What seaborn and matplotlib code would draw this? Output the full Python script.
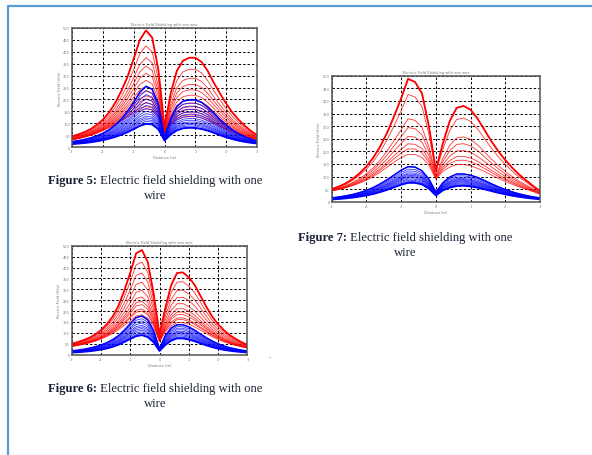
import numpy as np
import pandas as pd
import matplotlib
matplotlib.use("Agg")
import matplotlib.pyplot as plt
from matplotlib.lines import Line2D
import seaborn as sns

# distance samples shared by every curve
X = [-3.0, -2.8, -2.6, -2.4, -2.2, -2.0, -1.8, -1.6, -1.4, -1.2, -1.0,
     -0.8, -0.6, -0.4, -0.2, 0.0, 0.2, 0.4, 0.6, 0.8, 1.0,
     1.2, 1.4, 1.6, 1.8, 2.0, 2.2, 2.4, 2.6, 2.8, 3.0]

X_TICKS = [-3, -2, -1, 0, 1, 2, 3]
X_TICK_LABELS = ["-3", "-2", "-1", "0", "1", "2", "3"]
Y_TICKS = [0, 1, 2, 3, 4, 5, 6, 7, 8, 9, 10]
Y_TICK_LABELS = ["0", "50", "100", "150", "200", "250", "300", "350", "400", "450", "500"]

# Figure 5: outermost curves of each family and left-peak heights of every curve
F5_RED_HI = [0.9, 1.05, 1.25, 1.5, 1.85, 2.3, 2.9, 3.7, 4.7, 5.9, 7.4,
             9.0, 9.8, 9.2, 6.5, 1.7, 4.5, 6.4, 7.25, 7.5, 7.5,
             7.15, 6.4, 5.4, 4.5, 3.65, 2.9, 2.3, 1.8, 1.35, 1.0]
F5_RED_LO = [0.6, 0.7, 0.82, 0.97, 1.15, 1.37, 1.62, 1.9, 2.2, 2.55, 2.85,
             3.1, 3.2, 3.1, 2.5, 1.2, 1.9, 2.3, 2.5, 2.55, 2.55,
             2.45, 2.25, 2.0, 1.72, 1.47, 1.25, 1.05, 0.88, 0.74, 0.62]
F5_BLUE_HI = [0.45, 0.53, 0.63, 0.76, 0.93, 1.15, 1.45, 1.85, 2.35, 3.0, 3.75,
              4.6, 5.1, 4.85, 3.6, 0.8, 2.4, 3.4, 3.85, 3.95, 3.95,
              3.75, 3.35, 2.85, 2.3, 1.85, 1.45, 1.12, 0.87, 0.66, 0.5]
F5_BLUE_LO = [0.25, 0.29, 0.34, 0.4, 0.48, 0.58, 0.7, 0.85, 1.03, 1.25, 1.5,
              1.78, 1.95, 1.9, 1.5, 0.55, 1.05, 1.4, 1.57, 1.62, 1.6,
              1.52, 1.38, 1.2, 1.0, 0.82, 0.67, 0.54, 0.44, 0.36, 0.3]
F5_RED_PEAKS = [9.8, 8.5, 7.5, 6.8, 6.2, 5.6, 5.1, 4.7, 4.3, 4.0, 3.7, 3.4, 3.2]
F5_BLUE_PEAKS = [5.1, 4.75, 4.4, 4.05, 3.75, 3.5, 3.25, 3.0, 2.8, 2.6, 2.45, 2.3, 2.15, 1.95]

# Figure 7
F7_RED_HI = [1.0, 1.2, 1.45, 1.8, 2.25, 2.8, 3.5, 4.4, 5.5, 6.8, 8.2,
             9.75, 9.5, 8.6, 6.0, 2.5, 4.6, 6.4, 7.45, 7.6, 7.3,
             6.6, 5.7, 4.8, 4.0, 3.3, 2.7, 2.15, 1.7, 1.25, 0.85]
F7_RED_LO = [0.85, 0.97, 1.1, 1.27, 1.47, 1.7, 2.0, 2.35, 2.75, 3.15, 3.5,
             3.75, 3.75, 3.5, 2.9, 1.8, 2.4, 2.75, 2.95, 2.95, 2.85,
             2.65, 2.4, 2.12, 1.85, 1.6, 1.38, 1.17, 0.98, 0.8, 0.62]
F7_BLUE_HI = [0.3, 0.37, 0.46, 0.57, 0.72, 0.9, 1.13, 1.42, 1.75, 2.12, 2.5,
              2.78, 2.75, 2.45, 1.8, 0.75, 1.5, 1.95, 2.2, 2.2, 2.1,
              1.92, 1.68, 1.42, 1.18, 0.96, 0.78, 0.62, 0.49, 0.38, 0.3]
F7_BLUE_LO = [0.18, 0.22, 0.27, 0.33, 0.41, 0.5, 0.62, 0.77, 0.95, 1.15, 1.35,
              1.5, 1.5, 1.38, 1.05, 0.5, 0.9, 1.12, 1.25, 1.27, 1.22,
              1.12, 0.99, 0.85, 0.71, 0.59, 0.48, 0.39, 0.31, 0.25, 0.2]
F7_RED_PEAKS = [9.8, 8.55, 6.6, 5.9, 5.2, 4.6, 4.2, 3.75]
F7_BLUE_PEAKS = [2.8, 2.6, 2.45, 2.3, 2.2, 2.1, 2.0, 1.9, 1.8, 1.7, 1.6, 1.5]

# Figure 6
F6_RED_HI = [1.0, 1.15, 1.33, 1.55, 1.85, 2.25, 2.8, 3.5, 4.5, 5.9, 7.5,
             9.3, 9.6, 8.5, 5.6, 1.9, 4.3, 6.4, 7.5, 7.55, 7.1,
             6.4, 5.4, 4.4, 3.5, 2.8, 2.25, 1.8, 1.45, 1.15, 0.9]
F6_RED_LO = [0.75, 0.84, 0.95, 1.08, 1.24, 1.43, 1.67, 1.96, 2.3, 2.7, 3.1,
             3.55, 3.65, 3.35, 2.6, 1.2, 2.1, 2.65, 2.95, 2.95, 2.8,
             2.55, 2.25, 1.95, 1.65, 1.4, 1.18, 1.0, 0.85, 0.72, 0.62]
F6_BLUE_HI = [0.35, 0.41, 0.49, 0.59, 0.72, 0.89, 1.1, 1.38, 1.75, 2.25, 2.85,
              3.4, 3.55, 3.2, 2.2, 0.55, 1.75, 2.45, 2.75, 2.75, 2.55,
              2.25, 1.9, 1.55, 1.25, 1.0, 0.8, 0.64, 0.52, 0.42, 0.34]
F6_BLUE_LO = [0.2, 0.23, 0.27, 0.32, 0.39, 0.47, 0.58, 0.73, 0.92, 1.18, 1.45,
              1.7, 1.8, 1.62, 1.15, 0.35, 0.9, 1.3, 1.5, 1.5, 1.4,
              1.24, 1.05, 0.86, 0.7, 0.56, 0.45, 0.37, 0.3, 0.25, 0.21]
F6_RED_PEAKS = [9.6, 8.5, 7.5, 6.65, 5.9, 5.3, 4.9, 4.6, 4.2, 4.0, 3.65]
F6_BLUE_PEAKS = [3.55, 3.3, 3.1, 2.9, 2.7, 2.55, 2.4, 2.25, 2.1, 1.95, 1.8]

PLOT_TITLE = "Electric Field Shielding with one wire"
CAPTION_TEXT = "Electric field shielding with one"


def family(lo, hi, peaks, name):
    """Curves of one family, placed between its lowest and highest curve by peak height."""
    lo = np.array(lo)
    hi = np.array(hi)
    frames = []
    for k, p in enumerate(peaks):
        f = (p - peaks[-1]) / (peaks[0] - peaks[-1])
        frames.append(pd.DataFrame({"x": X, "y": lo + f * (hi - lo), "curve": f"{name}{k}"}))
    return pd.concat(frames, ignore_index=True)


def draw_panel(ax, red_lo, red_hi, red_peaks, blue_lo, blue_hi, blue_peaks):
    reds = family(red_lo, red_hi, red_peaks, "r")
    blues = family(blue_lo, blue_hi, blue_peaks, "b")
    sns.lineplot(data=reds, x="x", y="y", units="curve", estimator=None,
                 color="#ff0000", lw=0.6, alpha=0.8, ax=ax, legend=False)
    sns.lineplot(x=X, y=red_hi, color="#ff0000", lw=1.3, ax=ax)
    sns.lineplot(data=blues, x="x", y="y", units="curve", estimator=None,
                 color="#0000ff", lw=0.6, alpha=0.8, ax=ax, legend=False)
    sns.lineplot(x=X, y=blue_hi, color="#0000ff", lw=1.1, ax=ax)
    sns.lineplot(x=X, y=blue_lo, color="#0000ff", lw=1.4, ax=ax)

    ax.set_xlim(-3, 3)
    ax.set_ylim(0, 10)
    ax.set_xticks(X_TICKS)
    ax.set_xticklabels(X_TICK_LABELS)
    ax.set_yticks(Y_TICKS)
    ax.set_yticklabels(Y_TICK_LABELS)
    ax.grid(True, color="black", ls=(0, (2.5, 2)), lw=0.7)
    ax.set_axisbelow(True)
    ax.tick_params(direction="in", length=2, width=0.5, labelsize=2.5,
                   labelcolor="#777777", pad=1.5)
    for s in ax.spines.values():
        s.set_color("#555555")
        s.set_linewidth(1.1)
    ax.set_title(PLOT_TITLE, fontsize=2.6, color="#777777", pad=2)
    ax.set_xlabel("Distance (m)", fontsize=2.6, color="#777777", labelpad=1.5)
    ax.set_ylabel("Electric Field (V/m)", fontsize=2.6, color="#777777", labelpad=1)


def caption(fig, cx, y1, y2, number):
    """Two-line caption: bold 'Figure N:' then regular text, centred on cx (pixels)."""
    W, H = 592, 456
    renderer = fig.canvas.get_renderer()
    kw = dict(fontsize=9.1, family="Liberation Serif", color="#1c2236", va="center")
    b = fig.text(0, 1 - y1 / H, f"Figure {number}:", weight="bold", **kw)
    r = fig.text(0, 1 - y1 / H, " " + CAPTION_TEXT, **kw)
    wb = b.get_window_extent(renderer).width
    wr = r.get_window_extent(renderer).width
    x0 = cx - (wb + wr) / 2
    b.set_x(x0 / W)
    r.set_x((x0 + wb) / W)
    fig.text(cx / W, 1 - y2 / H, "wire", ha="center", **kw)


sns.set_style("white")
fig = plt.figure(figsize=(5.92, 4.56), dpi=100)
fig.patch.set_facecolor("white")

ax5 = fig.add_axes([72 / 592, 1 - 148 / 456, 185 / 592, 119 / 456])
draw_panel(ax5, F5_RED_LO, F5_RED_HI, F5_RED_PEAKS, F5_BLUE_LO, F5_BLUE_HI, F5_BLUE_PEAKS)

ax7 = fig.add_axes([331.7 / 592, 1 - 202.7 / 456, 208.3 / 592, 126 / 456])
draw_panel(ax7, F7_RED_LO, F7_RED_HI, F7_RED_PEAKS, F7_BLUE_LO, F7_BLUE_HI, F7_BLUE_PEAKS)

ax6 = fig.add_axes([71.7 / 592, 1 - 355.7 / 456, 175.6 / 592, 109 / 456])
draw_panel(ax6, F6_RED_LO, F6_RED_HI, F6_RED_PEAKS, F6_BLUE_LO, F6_BLUE_HI, F6_BLUE_PEAKS)

caption(fig, 155, 181, 196, 5)
caption(fig, 405, 238, 253, 7)
caption(fig, 155, 389, 404, 6)

# page frame on the left and top edges
fig.add_artist(Line2D([8 / 592, 8 / 592], [0, 1 - 7 / 456], transform=fig.transFigure,
                      color="#5b9bd5", lw=1.6))
fig.add_artist(Line2D([8 / 592, 1], [1 - 7 / 456, 1 - 7 / 456], transform=fig.transFigure,
                      color="#5b9bd5", lw=1.6))
fig.text(268 / 592, 1 - 358 / 456, ".", fontsize=5, color="#333333")

fig.savefig("out.png", dpi=100)
